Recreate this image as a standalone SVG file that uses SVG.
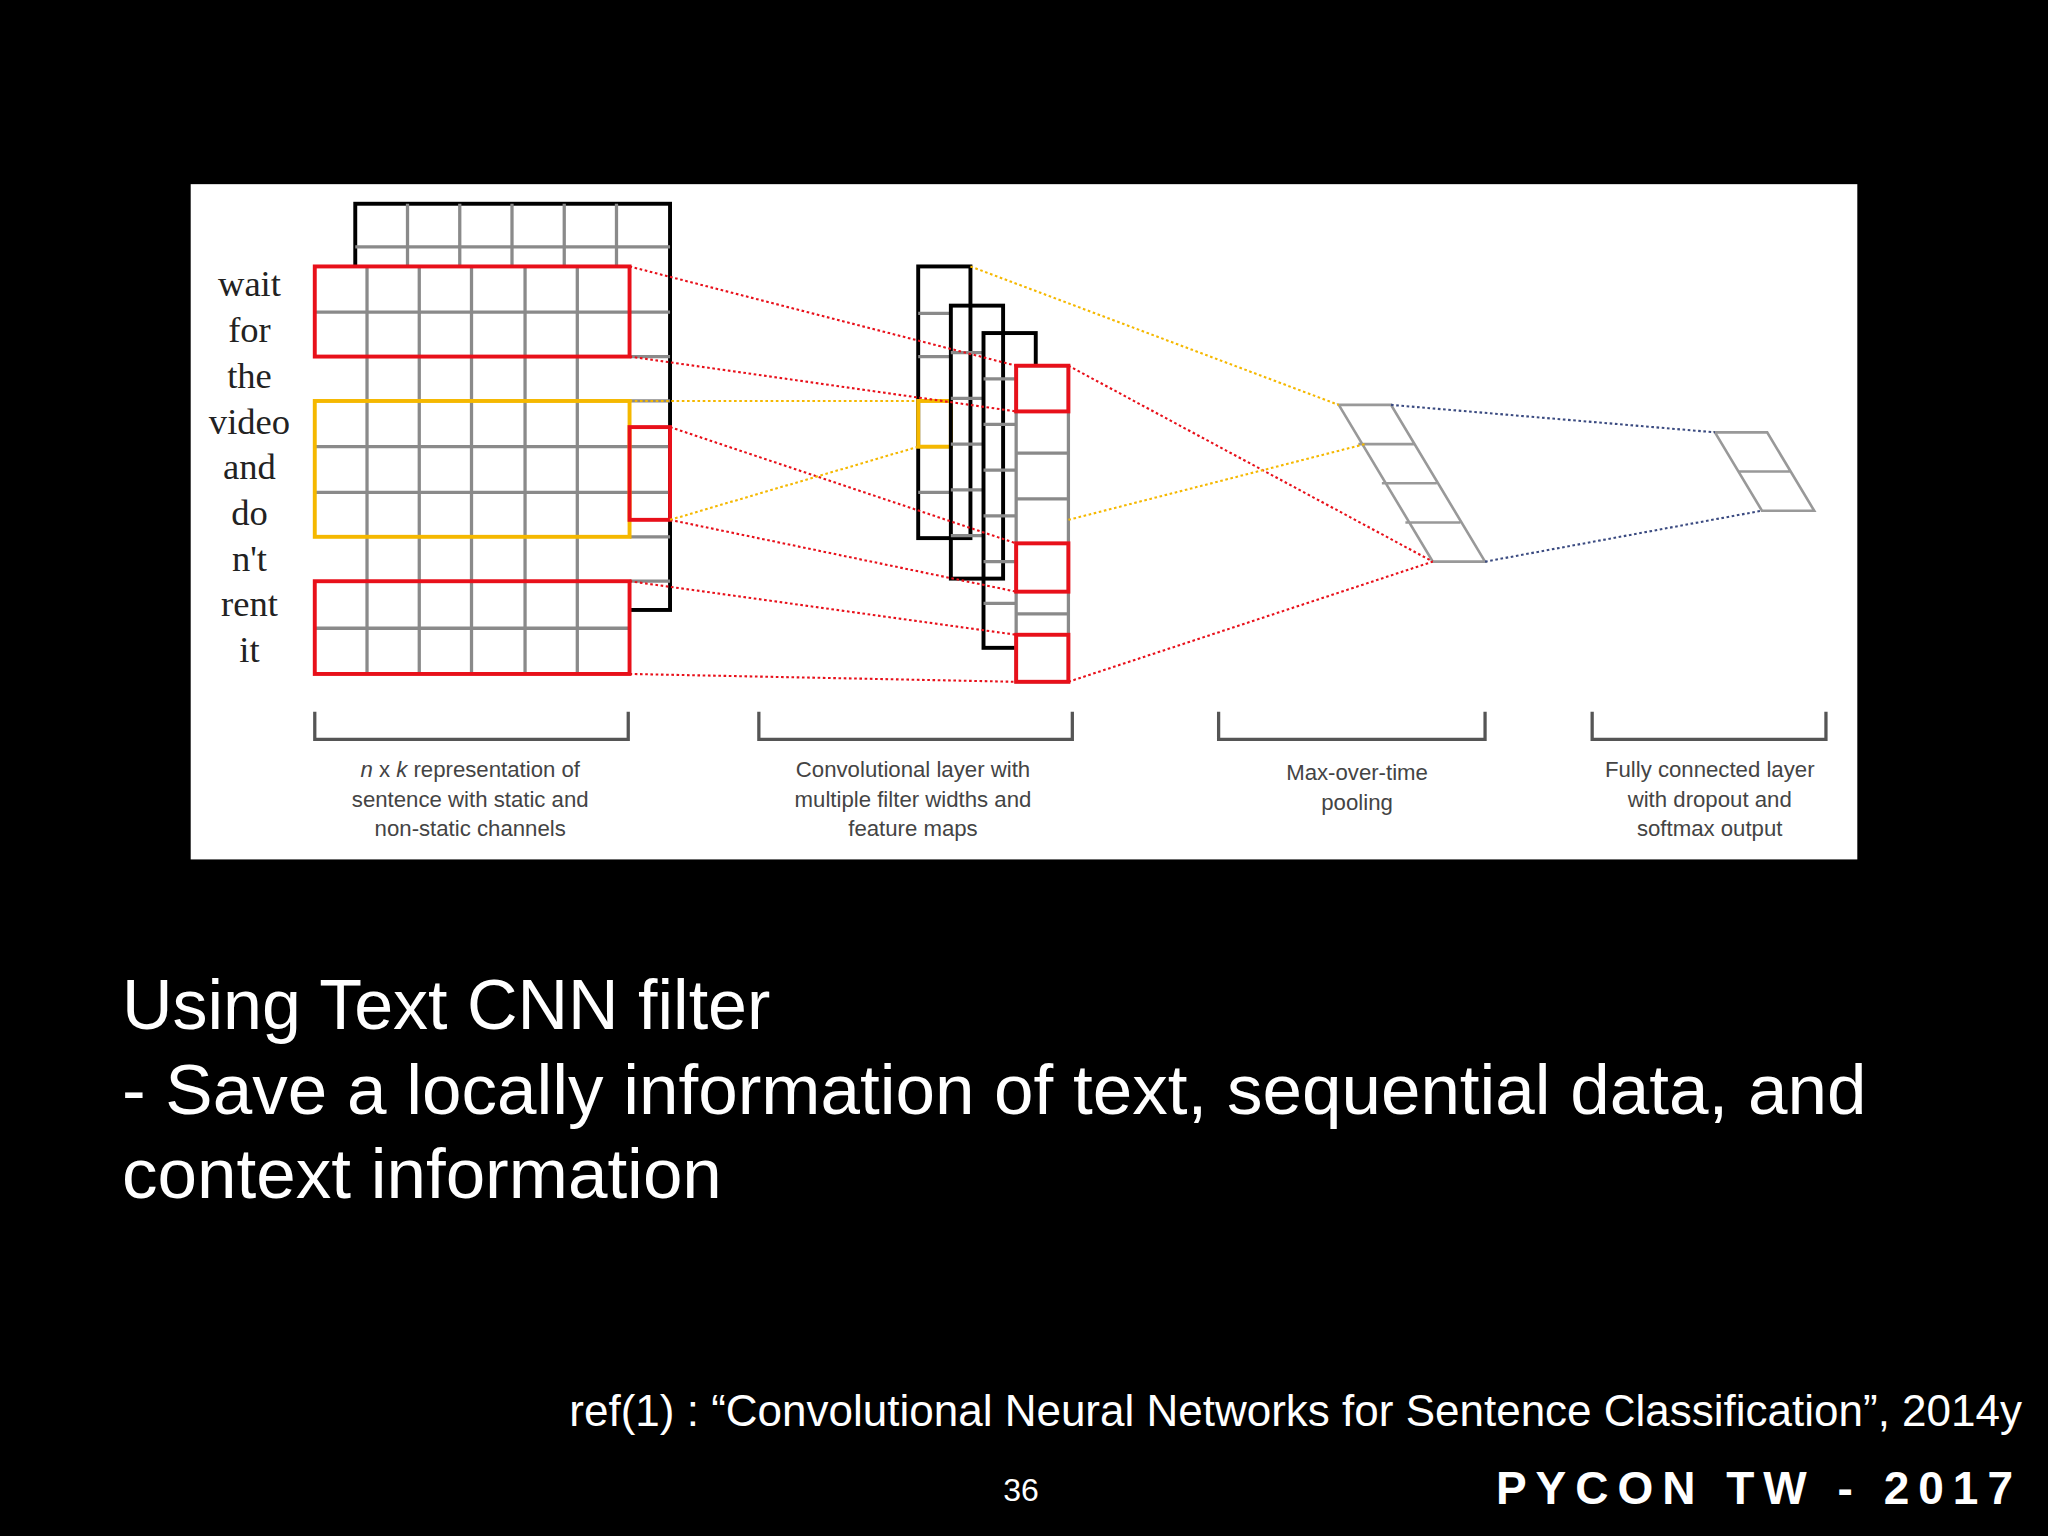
<svg xmlns="http://www.w3.org/2000/svg" width="2048" height="1536" viewBox="0 0 2048 1536">
<style>
.g{fill:none;stroke:#8a8a8a;stroke-width:2.5}
.k{fill:none;stroke:#000;stroke-width:3}
.r{fill:none;stroke:#e8101a;stroke-width:3}
.y{fill:none;stroke:#f5b800;stroke-width:3}
.rd{stroke:#e8101a;stroke-width:1.6;stroke-dasharray:2 2;fill:none}
.yd{stroke:#f5b800;stroke-width:1.6;stroke-dasharray:2 2;fill:none}
.bd{stroke:#3a4a80;stroke-width:1.6;stroke-dasharray:2 2;fill:none}
.w{font-family:"Liberation Serif",serif;font-size:28px;fill:#222;text-anchor:middle}
.c{font-family:"Liberation Sans",sans-serif;font-size:17px;fill:#444;text-anchor:middle}
.b{fill:none;stroke:#555;stroke-width:2.5}
.p{fill:none;stroke:#999;stroke-width:2}
</style>
<rect width="2048" height="1536" fill="#000"/>
<g transform="scale(1.30612)">
<rect x="146" y="141" width="1276" height="517" fill="#fff"/>
<g id="input">
<rect x="272" y="156" width="241" height="311" class="k"/>
<path class="g" d="M312 156V204M352 156V204M392 156V204M432 156V204M472 156V204M272 189H513M482 239H513M482 273H513M482 307H513M482 342H513M482 377H513M482 411H513M482 445H513"/>
<rect x="241" y="204" width="241" height="312" fill="#fff"/>
<path class="g" d="M281 204V516M321 204V516M361 204V516M402 204V516M442 204V516M241 239H482M241 342H482M241 377H482M241 481H482"/>
<rect x="241" y="204" width="241" height="69" class="r"/>
<rect x="241" y="445" width="241" height="71" class="r"/>
<rect x="241" y="307" width="241" height="104" class="y"/>
<rect x="482" y="327" width="31" height="71" class="r"/>
<g class="w"><text x="191" y="227">wait</text><text x="191" y="262">for</text><text x="191" y="297">the</text><text x="191" y="332">video</text><text x="191" y="367">and</text><text x="191" y="402">do</text><text x="191" y="437">n't</text><text x="191" y="472">rent</text><text x="191" y="507">it</text></g>
</g>
<g id="conv">
<rect x="703" y="204" width="40" height="208" class="k" fill="#fff"/>
<path class="g" d="M703 240H728M703 273H728M703 342H728M703 377H728"/>
<rect x="703" y="307" width="25" height="35" class="y"/>
<rect x="728" y="234" width="40" height="209" class="k" fill="#fff"/>
<path class="g" d="M728 270H753M728 305H753M728 340H753M728 375H753M728 410H753"/>
<rect x="753" y="255" width="40" height="241" class="k" fill="#fff"/>
<path class="g" d="M753 290H778M753 325H778M753 360H778M753 395H778M753 430H778M753 462H778"/>
<rect x="778" y="280" width="40" height="242" fill="#fff" stroke="#8a8a8a" stroke-width="2.5"/>
<path class="g" d="M778 347H818M778 382H818M778 470H818"/>
<rect x="778" y="280" width="40" height="35" class="r"/>
<rect x="778" y="416" width="40" height="37" class="r"/>
<rect x="778" y="486" width="40" height="36" class="r"/>
</g>
<g id="pool">
<path class="p" d="M1025 310H1065L1137 430H1097ZM1040 340H1083M1058 370H1100M1076 400H1118"/>
</g>
<g id="fc">
<path class="p" d="M1313 331H1353L1389 391H1349ZM1331 361H1371"/>
</g>
<g id="connectors">
<path class="rd" d="M482 204L778 280M482 273L778 315M513 327L778 416M513 398L778 453M482 445L778 486M482 516L778 522M818 280L1097 430M818 522L1097 430"/>
<path class="yd" d="M482 307H703M513 398L703 342M743 204L1025 310M818 398L1045 340"/>
<path class="bd" d="M1065 310L1313 331M1137 430L1349 391"/>
</g>
<g id="labels">
<path class="b" d="M241 545V566H481V545M581 545V566H821V545M933 545V566H1137V545M1219 545V566H1398V545"/>
<g class="c">
<text x="360" y="595"><tspan font-style="italic">n</tspan> x <tspan font-style="italic">k</tspan> representation of</text>
<text x="360" y="618">sentence with static and</text>
<text x="360" y="640">non-static channels</text>
<text x="699" y="595">Convolutional layer with</text>
<text x="699" y="618">multiple filter widths and</text>
<text x="699" y="640">feature maps</text>
<text x="1039" y="597">Max-over-time</text>
<text x="1039" y="620">pooling</text>
<text x="1309" y="595">Fully connected layer</text>
<text x="1309" y="618">with dropout and</text>
<text x="1309" y="640">softmax output</text>
</g>
</g>
</g>
<g font-family="Liberation Sans, sans-serif" fill="#fff">
<text x="122" y="1029" font-size="70">Using Text CNN filter</text>
<text x="122" y="1114" font-size="71">- Save a locally information of text, sequential data, and</text>
<text x="122" y="1198" font-size="71">context information</text>
<text x="2022" y="1426" font-size="44" text-anchor="end">ref(1) : “Convolutional Neural Networks for Sentence Classification”, 2014y</text>
<text x="1021" y="1501" font-size="32" text-anchor="middle">36</text>
<text x="2022" y="1504" font-size="46" font-weight="bold" letter-spacing="9" text-anchor="end">PYCON TW - 2017</text>
</g>
</svg>
